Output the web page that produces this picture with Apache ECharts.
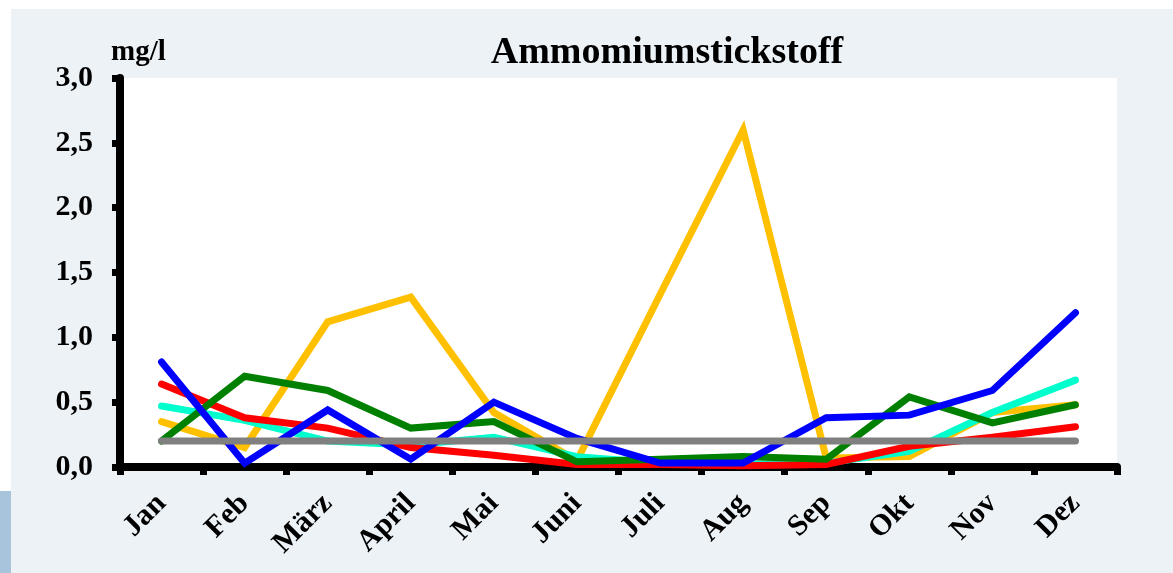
<!DOCTYPE html>
<html>
<head>
<meta charset="utf-8">
<script src="https://cdn.jsdelivr.net/npm/echarts@6/dist/echarts.min.js"></script>
<style>
  html, body { margin: 0; padding: 0; background: #fff; }
  #chart { width: 1173px; height: 573px; }
</style>
</head>
<body>
<div id="chart"></div>
<script>
// Monate
const months = ["Jan", "Feb", "März", "April", "Mai", "Juni", "Juli", "Aug", "Sep", "Okt", "Nov", "Dez"];

// Messwerte (mg/l)
const yellowVals = [0.35, 0.15, 1.12, 1.31, 0.42, 0.05, 1.33, 2.60, 0.07, 0.08, 0.42, 0.48];
const cyanVals   = [0.47, 0.36, 0.20, 0.17, 0.23, 0.08, 0.03, 0.02, 0.03, 0.12, 0.42, 0.67];
const redVals    = [0.64, 0.38, 0.30, 0.15, 0.09, 0.02, 0.02, 0.01, 0.02, 0.16, 0.23, 0.31];
const greenVals  = [0.20, 0.70, 0.59, 0.30, 0.35, 0.04, 0.06, 0.08, 0.06, 0.54, 0.34, 0.48];
const blueVals   = [0.81, 0.03, 0.44, 0.06, 0.50, 0.22, 0.03, 0.03, 0.38, 0.40, 0.59, 1.19];
const limitVals  = [0.2, 0.2, 0.2, 0.2, 0.2, 0.2, 0.2, 0.2, 0.2, 0.2, 0.2, 0.2];

const yTicks = [0, 0.5, 1, 1.5, 2, 2.5, 3];

const serif = "'Liberation Serif', 'Times New Roman', serif";

const myChart = echarts.init(document.getElementById("chart"));

// eine Linie
function lineSeries(name, data, color) {
    return {
        name,
        type: "line",
        data,
        symbol: "none",
        lineStyle: { color, width: 7, cap: "round", join: "miter" },
        z: 2,
    };
}

const option = {
    backgroundColor: "#ffffff",
    animation: false,
    graphic: [
        { type: "rect", z: -10, shape: { x: 11, y: 9, width: 1162, height: 564 }, style: { fill: "#edf2f7" } },
        { type: "rect", z: -10, shape: { x: 0, y: 491, width: 11, height: 82 }, style: { fill: "#a7c4dc" } },
        {
            type: "text", left: 111, top: 38,
            style: { text: "mg/l", font: "bold 29px " + serif, fill: "#000" },
        },
    ],
    title: {
        text: "Ammomiumstickstoff",
        left: 662,
        top: 29,
        textAlign: "center",
        textStyle: { fontFamily: serif, fontWeight: "bold", fontSize: 38, color: "#000" },
    },
    grid: {
        left: 120,
        right: 56,
        top: 78,
        bottom: 106,
        show: true,
        backgroundColor: "#ffffff",
        borderWidth: 0,
    },
    xAxis: {
        type: "category",
        data: months,
        boundaryGap: true,
        axisLine: { show: true, lineStyle: { color: "#000", width: 8 } },
        axisTick: { show: true, inside: false, length: 8, lineStyle: { color: "#000", width: 7 } },
        axisLabel: {
            rotate: 45,
            margin: 32,
            color: "#000",
            fontFamily: serif,
            fontWeight: "bold",
            fontSize: 30,
        },
        splitLine: { show: false },
    },
    yAxis: {
        type: "value",
        min: yTicks[0],
        max: yTicks[yTicks.length - 1],
        interval: 0.5,
        axisLine: { show: true, lineStyle: { color: "#000", width: 8 } },
        axisTick: { show: true, inside: false, length: 8, lineStyle: { color: "#000", width: 7 } },
        axisLabel: {
            margin: 27,
            color: "#000",
            fontFamily: serif,
            fontWeight: "bold",
            fontSize: 30,
            formatter: (v) => v.toFixed(1).replace(".", ","),
        },
        splitLine: { show: false },
    },
    series: [
        lineSeries("gelb", yellowVals, "#ffc000"),
        lineSeries("türkis", cyanVals, "#00ffcc"),
        lineSeries("rot", redVals, "#ff0000"),
        lineSeries("grün", greenVals, "#008000"),
        lineSeries("blau", blueVals, "#0000ff"),
        lineSeries("Grenzwert", limitVals, "#808080"),
    ],
};

myChart.setOption(option);
</script>
</body>
</html>
